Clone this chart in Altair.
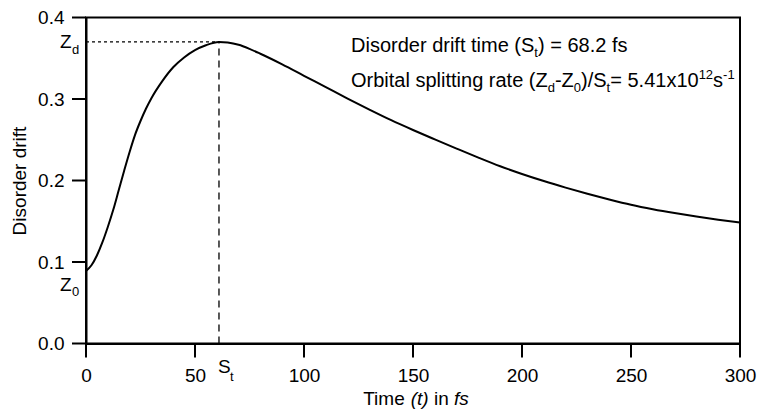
import altair as alt
import pandas as pd

# Disorder drift curve (time in fs, drift value)
time_fs = [0, 2.5, 5, 7.5, 10, 12.5, 15, 17.5, 20, 22.5, 25, 27.5, 30, 35, 40, 45,
           50, 55, 61, 65, 70, 75, 80, 90, 100, 110, 120, 130, 140, 150, 160,
           170, 180, 190, 200, 210, 220, 230, 240, 250, 260, 270, 280, 290, 300]
drift = [0.089, 0.096, 0.108, 0.124, 0.143, 0.164, 0.188, 0.212, 0.235, 0.256,
         0.273, 0.288, 0.301, 0.322, 0.339, 0.351, 0.360, 0.366, 0.370, 0.3693,
         0.3665, 0.3615, 0.3555, 0.3425, 0.3285, 0.3145, 0.3005, 0.2870, 0.2740,
         0.2620, 0.2505, 0.2392, 0.2281, 0.2175, 0.2080, 0.1993, 0.1913, 0.1838,
         0.1768, 0.1703, 0.1648, 0.1600, 0.1557, 0.1519, 0.1485]

x_ticks = [0, 50, 100, 150, 200, 250, 300]
y_ticks = [0.0, 0.1, 0.2, 0.3, 0.4]

# rich-text pieces: (text, font size, baseline shift, italic)
line1 = [("Disorder drift time (S", 20, 0, False), ("t", 13, 5, False),
         (") = 68.2 fs", 20, 0, False)]
line2 = [("Orbital splitting rate (Z", 20, 0, False), ("d", 13, 5, False),
         ("-Z", 20, 0, False), ("0", 13, 5, False), (")/S", 20, 0, False),
         ("t", 13, 5, False), ("= 5.41x10", 20, 0, False), ("12", 13, -8, False),
         ("s", 20, 0, False), ("-1", 13, -8, False)]
x_title = [("Time ", 19, 0, False), ("(t)", 19, 0, True), (" in ", 19, 0, False),
           ("fs", 19, 0, True)]

FONT = "Liberation Sans"
W, H = 654, 326
TICK = 14

# Arial / Liberation Sans advance widths (1/1000 em)
ADV = {" ": 278, "(": 333, ")": 333, "-": 333, ".": 278, "/": 278, "=": 584,
       "x": 500, "D": 722, "O": 778, "S": 667, "T": 611, "Z": 611, "a": 556,
       "b": 556, "d": 556, "e": 556, "f": 278, "g": 556, "i": 222, "l": 222,
       "m": 833, "n": 556, "o": 556, "p": 556, "r": 333, "s": 500, "t": 278}


def text_width(s, size):
    return sum(ADV.get(c, 556) for c in s) * size / 1000.0


def rich_text(pieces, x0, y0, anchor="left"):
    """Lay out pieces side by side; SVG drops edge spaces, so they are
    turned into explicit horizontal offsets."""
    total = sum(text_width(t, sz) for t, sz, _, _ in pieces)
    x = x0 - total / 2 if anchor == "center" else x0
    out = []
    for t, sz, shift, italic in pieces:
        lead = len(t) - len(t.lstrip(" "))
        body = t.strip(" ")
        out.append(
            alt.Chart(pd.DataFrame({"k": [0]})).mark_text(
                align="left", baseline="alphabetic", font=FONT, fontSize=sz,
                fontStyle="italic" if italic else "normal", color="black"
            ).encode(x=alt.value(x + text_width(" " * lead, sz)),
                     y=alt.value(y0 + shift), text=alt.value(body))
        )
        x += text_width(t, sz)
    return out


curve = pd.DataFrame({"t": time_fs, "drift": drift})
i_peak = drift.index(max(drift))
peak = pd.DataFrame({"st": [time_fs[i_peak]], "zd": [drift[i_peak]],
                     "z0": [drift[0]], "zero": [0.0]})

x_scale = alt.Scale(domain=[0, 300], nice=False, zero=False)
y_scale = alt.Scale(domain=[0, 0.4], nice=False)

# axis ticks are drawn as separate rule layers, so labels sit past them
x_axis = alt.Axis(values=x_ticks, title=None, labelPadding=TICK + 9)
y_axis = alt.Axis(values=y_ticks, format=".1f", title="Disorder drift",
                  labelPadding=TICK + 8, titlePadding=8)

line = alt.Chart(curve).mark_line(
    color="black", strokeWidth=2, interpolate="monotone"
).encode(
    x=alt.X("t:Q", scale=x_scale, axis=x_axis),
    y=alt.Y("drift:Q", scale=y_scale, axis=y_axis),
)

# outward tick marks at the axis tick values
x_tick_marks = alt.Chart(pd.DataFrame({"t": x_ticks})).mark_rule(
    color="black", strokeWidth=2
).encode(x="t:Q", y=alt.value(H), y2=alt.value(H + TICK))
y_tick_marks = alt.Chart(pd.DataFrame({"drift": y_ticks})).mark_rule(
    color="black", strokeWidth=2
).encode(y="drift:Q", x=alt.value(-TICK), x2=alt.value(0))

base = alt.Chart(peak)
v_rule = base.mark_rule(color="black", strokeWidth=1.3, strokeDash=[7, 5]).encode(
    x="st:Q", y="zero:Q", y2="zd:Q")
h_rule = base.mark_rule(color="black", strokeWidth=1.2, strokeDash=[3, 3]).encode(
    x="zero:Q", x2="st:Q", y="zd:Q")

lbl = dict(font=FONT, color="black", align="left", baseline="alphabetic")


def point_label(text, size, dx, dy, xf, yf):
    return base.mark_text(text=text, fontSize=size, dx=dx, dy=dy, **lbl).encode(
        x=xf, y=yf)


labels = [
    point_label("Z", 19, -26, 6, "zero:Q", "zd:Q"),
    point_label("d", 13, -14, 12, "zero:Q", "zd:Q"),
    point_label("Z", 19, -26, 20, "zero:Q", "z0:Q"),
    point_label("0", 13, -14, 25, "zero:Q", "z0:Q"),
    point_label("S", 19, -1, 29, "st:Q", "zero:Q"),
    point_label("t", 13, 11, 37, "st:Q", "zero:Q"),
]

texts = (rich_text(line1, 265, 34.5) + rich_text(line2, 265, 69)
         + rich_text(x_title, W / 2 + 3, 387, anchor="center"))

chart = alt.layer(
    line, v_rule, h_rule, *labels, *texts, x_tick_marks, y_tick_marks
).properties(
    width=W, height=H,
    autosize=alt.AutoSizeParams(type="none"),
    padding={"left": 86, "top": 17.5, "right": 19, "bottom": 67.5},
).configure(
    background="white"
).configure_axis(
    grid=False, ticks=False, tickSize=0,
    domain=True, domainColor="black", domainWidth=2,
    labelFont=FONT, labelFontSize=19, labelColor="black", labelFlush=False,
    titleFont=FONT, titleFontSize=19, titleFontWeight="normal",
    titleColor="black",
).configure_view(
    stroke="black", strokeWidth=2
)

chart.save("out.html", embed_options={"renderer": "svg", "actions": False})
